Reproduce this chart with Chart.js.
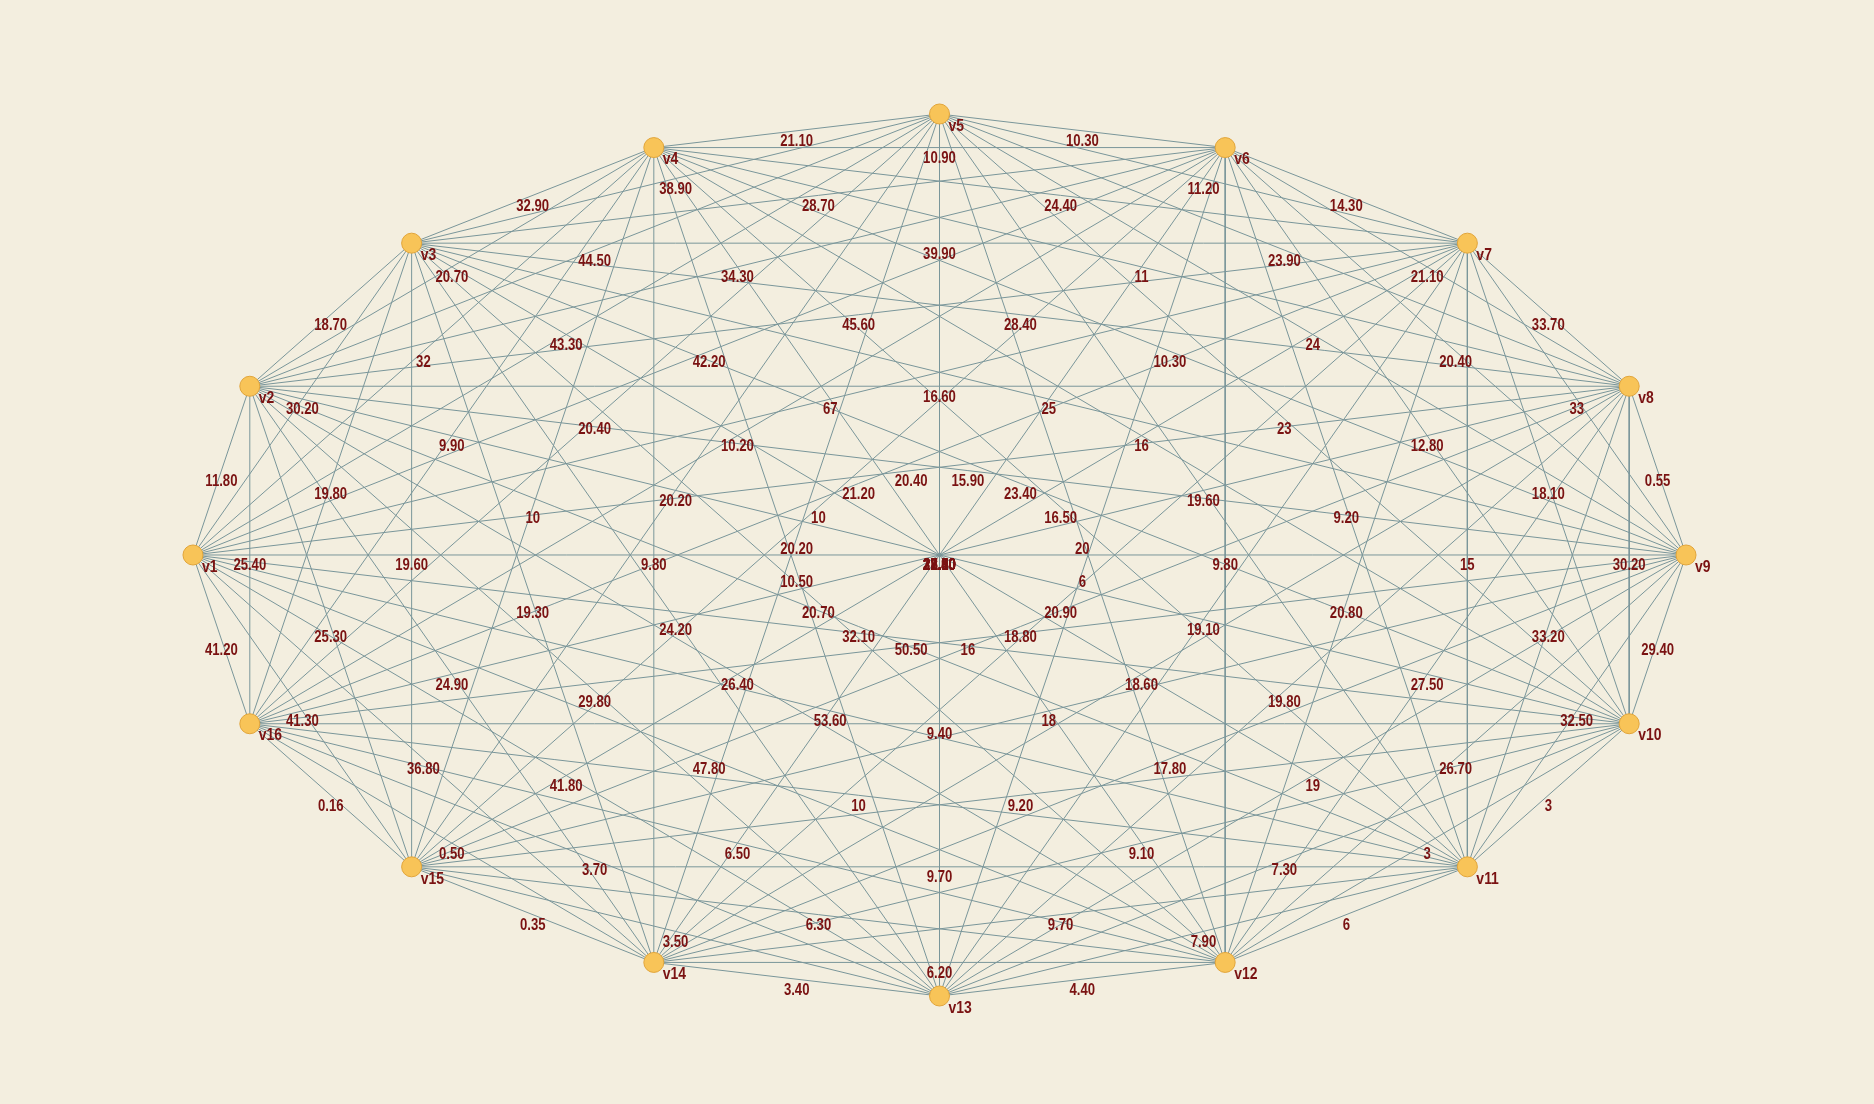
<!DOCTYPE html>
<html>
<head>
<meta charset="utf-8">
<title>Complete graph K16</title>
<script src="https://cdn.jsdelivr.net/npm/chart.js@4.4.1/dist/chart.umd.min.js"></script>
<style>
    html, body { margin: 0; padding: 0; background: #f3eedf; overflow: hidden; }
    #wrap { width: 1874px; height: 1104px; position: relative; }
</style>
</head>
<body>
<div id="wrap"><canvas id="graph"></canvas></div>
<script>
// vertex names, placed around the ellipse starting at the left, going clockwise
const vertexNames = ['v1', 'v2', 'v3', 'v4', 'v5', 'v6', 'v7', 'v8',
                     'v9', 'v10', 'v11', 'v12', 'v13', 'v14', 'v15', 'v16'];

// edge weights grouped by step: stepN[i] is the edge v(i+1) -> v(i+1+N)
const step1 = [11.8, 18.7, 32.9, 21.1, 10.3, 14.3, 33.7, 0.55, 29.4, 3, 6, 4.4, 3.4, 0.35, 0.16, 41.2];
const step2 = [30.2, 20.7, 38.9, 10.9, 11.2, 21.1, 33, 30.2, 32.5, 3, 7.9, 6.2, 3.5, 0.5, 41.3, 25.4];
const step3 = [32, 44.5, 28.7, 24.4, 23.9, 20.4, 18.1, 33.2, 26.7, 7.3, 9.7, 6.3, 3.7, 36.8, 25.3, 19.8];
const step4 = [43.3, 34.3, 39.9, 11, 24, 12.8, 15, 27.5, 19, 9.1, 9.7, 6.5, 41.8, 24.9, 19.6, 9.9];
const step5 = [42.2, 45.6, 28.4, 10.3, 23, 9.2, 20.8, 19.8, 17.8, 9.2, 10, 47.8, 29.8, 19.3, 10, 20.4];
const step6 = [67, 16.6, 25, 16, 19.6, 9.8, 19.1, 18.6, 18, 9.4, 53.6, 26.4, 24.2, 9.8, 20.2, 10.2];
const step7 = [20.4, 15.9, 23.4, 16.5, 20, 6, 20.9, 18.8, 16, 50.5, 32.1, 20.7, 10.5, 20.2, 10, 21.2];
// opposite vertices: all labels overlap in the middle
const step8 = [22.1, 28.5, 21.3, 25.8, 12.9, 27.6, 22.4, 31.5];

const stepWeights = [step1, step2, step3, step4, step5, step6, step7, step8];

const bgColor = '#f3eedf';
const edgeColor = '#7a969a';
const nodeFill = '#f8c458';
const nodeBorder = '#e2a53a';
const textColor = '#7a1212';

// vertex positions on the unit circle (the scales stretch it into an ellipse)
const n = vertexNames.length;
const vertices = vertexNames.map((name, i) => {
    const a = Math.PI - i * 2 * Math.PI / n;
    return { x: Math.cos(a), y: Math.sin(a), name: name };
});

const edges = [];
stepWeights.forEach((weights, s) => {
    const k = s + 1;
    weights.forEach((w, i) => {
        edges.push({ from: i, to: (i + k) % n, weight: w });
    });
});

function fmtWeight(w) {
    return Number.isInteger(w) ? String(w) : w.toFixed(2);
}

// condensed font if available, otherwise squeeze Liberation Sans a bit
let labelFont = '"Liberation Sans Narrow"';
let squeeze = 1;
(function () {
    const c = document.createElement('canvas').getContext('2d');
    c.font = 'bold 20px monospace';
    const w1 = c.measureText('0123456789v').width;
    c.font = 'bold 20px "Liberation Sans Narrow", monospace';
    const w2 = c.measureText('0123456789v').width;
    if (w1 === w2) {
        labelFont = '"Liberation Sans", Arial';
        squeeze = 0.82;
    }
})();

function drawText(ctx, text, x, y, align) {
    ctx.save();
    ctx.translate(x, y);
    ctx.scale(squeeze, 1);
    ctx.textAlign = align;
    ctx.fillText(text, 0, 0);
    ctx.restore();
}

const labelPlugin = {
    id: 'graphLabels',
    beforeDraw(chart) {
        const ctx = chart.ctx;
        ctx.save();
        ctx.fillStyle = bgColor;
        ctx.fillRect(0, 0, chart.width, chart.height);
        ctx.restore();
    },
    afterDatasetsDraw(chart) {
        const ctx = chart.ctx;
        const xs = chart.scales.x;
        const ys = chart.scales.y;
        ctx.save();
        ctx.fillStyle = textColor;
        ctx.textBaseline = 'middle';
        ctx.font = 'bold 16px ' + labelFont;
        edges.forEach(e => {
            const a = vertices[e.from], b = vertices[e.to];
            const px = xs.getPixelForValue((a.x + b.x) / 2);
            const py = ys.getPixelForValue((a.y + b.y) / 2);
            drawText(ctx, fmtWeight(e.weight), px, py + 11, 'center');
        });
        ctx.font = 'bold 17px ' + labelFont;
        vertices.forEach(v => {
            const px = xs.getPixelForValue(v.x);
            const py = ys.getPixelForValue(v.y);
            drawText(ctx, v.name, px + 9, py + 12, 'left');
        });
        ctx.restore();
    }
};

const datasets = edges.map(e => ({
    data: [
        { x: vertices[e.from].x, y: vertices[e.from].y },
        { x: vertices[e.to].x, y: vertices[e.to].y }
    ],
    showLine: true,
    borderColor: edgeColor,
    borderWidth: 1,
    pointRadius: 0,
    order: 2
}));

datasets.push({
    data: vertices.map(v => ({ x: v.x, y: v.y })),
    showLine: false,
    pointRadius: 10,
    pointBackgroundColor: nodeFill,
    pointBorderColor: nodeBorder,
    pointBorderWidth: 1,
    order: 1
});

new Chart(document.getElementById('graph'), {
    type: 'scatter',
    data: { datasets: datasets },
    options: {
        responsive: true,
        maintainAspectRatio: false,
        animation: false,
        layout: { padding: 0, autoPadding: false },
        plugins: {
            legend: { display: false },
            tooltip: { enabled: false }
        },
        scales: {
            x: { type: 'linear', display: false, min: -1.2585, max: 1.2518 },
            y: { type: 'linear', display: false, min: -1.2449, max: 1.2585 }
        }
    },
    plugins: [labelPlugin]
});
</script>
</body>
</html>
